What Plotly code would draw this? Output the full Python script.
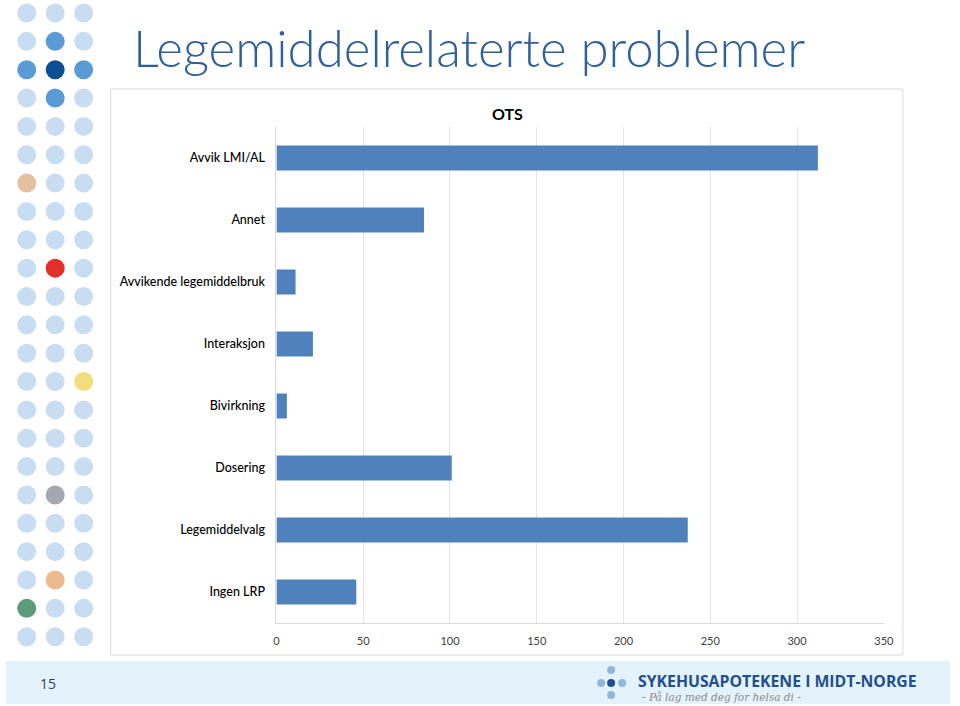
import plotly.graph_objects as go

# ---- data ----
categories = ["Avvik LMI/AL", "Annet", "Avvikende legemiddelbruk", "Interaksjon",
              "Bivirkning", "Dosering", "Legemiddelvalg", "Ingen LRP"]
values = [312, 85, 11, 21, 6, 101, 237, 46]
x_ticks = [0, 50, 100, 150, 200, 250, 300, 350]
chart_title = "OTS"
slide_title = "Legemiddelrelaterte problemer"
page_number = "15"
logo_name = "SYKEHUSAPOTEKENE I MIDT-NORGE"
logo_slogan = "- På lag med deg for helsa di -"

W, H = 960, 706
BAR_COLOR = "#4f81bd"


def cx(x):
    # horizontal layout position (pixels) corrected for the capture's slight x-scaling
    return (x - 2.25) / 0.9875


def px(x):
    return min(max(cx(x) / W, 0), 1)


def py(y):
    return 1 - y / H


fig = go.Figure()

fig.add_trace(go.Bar(
    x=values, y=categories, orientation="h",
    marker=dict(color=BAR_COLOR, line=dict(width=0)),
    width=0.4, showlegend=False, hoverinfo="x+y",
))

# ---- decorative dot column (left side) ----
light = "#c8ddf2"
special = {
    (1, 1): "#5b9bd5", (2, 0): "#5b9bd5", (2, 1): "#0b4f93", (2, 2): "#5b9bd5",
    (3, 1): "#5b9bd5", (6, 0): "#e4c09f", (9, 1): "#e2302a", (13, 2): "#f2dc7c",
    (17, 1): "#a3a9b1", (20, 1): "#edb98f", (21, 0): "#5b9a7c",
}
dx, dy, dc = [], [], []
for r in range(23):
    for c in range(3):
        dx.append(cx(26 + 28.5 * c))
        dy.append(13 + 28.35 * r)
        dc.append(special.get((r, c), light))
fig.add_trace(go.Scatter(
    x=dx, y=dy, mode="markers", xaxis="x2", yaxis="y2",
    marker=dict(size=19, color=dc, line=dict(width=0)),
    showlegend=False, hoverinfo="skip", cliponaxis=False,
))

# ---- logo dots ----
lx = [cx(v) for v in [601, 611, 622, 611, 611]]
ly = [683, 683, 683, 670, 695]
lc = ["#8fb8df", "#1f4f8f", "#8fb8df", "#8fb8df", "#8fb8df"]
fig.add_trace(go.Scatter(
    x=lx, y=ly, mode="markers", xaxis="x2", yaxis="y2",
    marker=dict(size=8, color=lc, line=dict(width=0)),
    showlegend=False, hoverinfo="skip", cliponaxis=False,
))

shapes = [
    # chart frame
    dict(type="rect", xref="paper", yref="paper",
         x0=px(110), x1=px(903), y0=py(655), y1=py(89),
         line=dict(color="#d9d9d9", width=1), fillcolor="white", layer="below"),
    # footer band
    dict(type="rect", xref="paper", yref="paper",
         x0=px(5), x1=px(956), y0=py(704), y1=py(661),
         line=dict(width=0), fillcolor="#e4f2fc", layer="below"),
]

annotations = [
    dict(text=slide_title, xref="paper", yref="paper", x=px(130), y=py(47),
         xanchor="left", yanchor="middle", showarrow=False,
         font=dict(family="Lato", size=51, color="#30609c", weight=300)),
    dict(text=f"<b>{chart_title}</b>", xref="paper", yref="paper", x=px(507), y=py(114),
         xanchor="center", yanchor="middle", showarrow=False,
         font=dict(family="Lato", size=16, color="#000000")),
    dict(text=page_number, xref="paper", yref="paper", x=px(47), y=py(683),
         xanchor="center", yanchor="middle", showarrow=False,
         font=dict(family="Open Sans", size=14, color="#2a3f5f")),
    dict(text=f"<b>{logo_name}</b>", xref="paper", yref="paper", x=px(636), y=py(681),
         xanchor="left", yanchor="middle", showarrow=False,
         font=dict(family="Open Sans", size=15.8, color="#1f4f8f")),
    dict(text=f"<i>{logo_slogan}</i>", xref="paper", yref="paper", x=px(640), y=py(697),
         xanchor="left", yanchor="middle", showarrow=False,
         font=dict(family="DejaVu Serif", size=10.5, color="#8a8a8a")),
]

fig.update_layout(
    width=W, height=H,
    margin=dict(l=0, r=0, t=0, b=0),
    paper_bgcolor="white", plot_bgcolor="rgba(0,0,0,0)",
    bargap=0.6,
    xaxis=dict(domain=[px(276), px(884)], range=[0, 350], tickvals=x_ticks,
               showgrid=True, gridcolor="#e3e3e3", gridwidth=1, zeroline=False,
               showline=True, linecolor="#d9d9d9", linewidth=1, mirror=False,
               ticks="outside", ticklen=8, tickcolor="rgba(0,0,0,0)",
               tickfont=dict(family="Lato", size=11, color="#404040"),
               fixedrange=True),
    yaxis=dict(domain=[py(623), py(127)], autorange="reversed",
               showgrid=False, showline=True, linecolor="#d9d9d9", linewidth=1,
               ticks="outside", ticklen=8, tickcolor="rgba(0,0,0,0)",
               tickfont=dict(family="Lato", size=12.5, color="#000000", weight=500),
               fixedrange=True),
    xaxis2=dict(domain=[0, 1], range=[0, W], visible=False, anchor="y2",
                fixedrange=True),
    yaxis2=dict(domain=[0, 1], range=[H, 0], visible=False, anchor="x2",
                fixedrange=True),
    shapes=shapes,
    annotations=annotations,
    font=dict(family="Lato"),
)

fig.write_html("out.html")
